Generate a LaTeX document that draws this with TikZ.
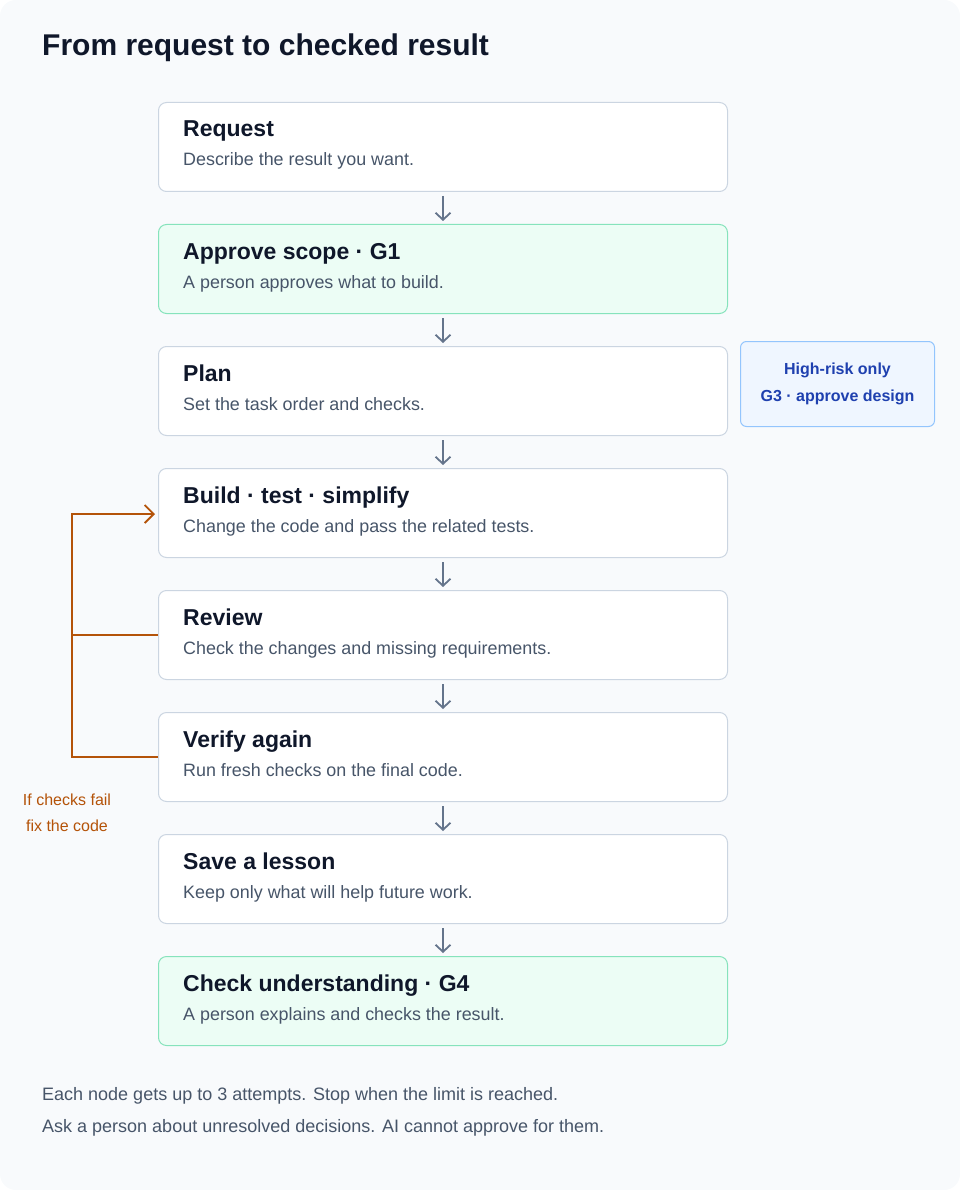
\documentclass[tikz,border=0pt]{standalone}
\usepackage{fontspec}
\setmainfont{Liberation Sans}
\usetikzlibrary{arrows.meta}
\definecolor{bgc}{HTML}{F8FAFC}
\definecolor{ink}{HTML}{0F172A}
\definecolor{muted}{HTML}{475569}
\definecolor{edge}{HTML}{CBD5E1}
\definecolor{arrowc}{HTML}{64748B}
\definecolor{gfill}{HTML}{ECFDF5}
\definecolor{gedge}{HTML}{86E3BC}
\definecolor{bfill}{HTML}{EFF6FF}
\definecolor{bedge}{HTML}{93C5FD}
\definecolor{btext}{HTML}{1E40AF}
\definecolor{loopc}{HTML}{B45309}
\tikzset{
  stage/.style={draw=edge,fill=white,rounded corners=8pt,line width=1pt,minimum width=569pt,minimum height=89pt,anchor=north west,inner sep=0pt},
  gate/.style={stage,draw=gedge,fill=gfill},
  stitle/.style={anchor=base west,inner sep=0pt,text=ink,font=\fontsize{23}{27}\selectfont\bfseries},
  ssub/.style={anchor=base west,inner sep=0pt,text=muted,font=\fontsize{17.9}{21}\selectfont},
  flow/.style={draw=arrowc,line width=1.8pt,-{Straight Barb[length=7pt,width=15pt]}},
}
\begin{document}
\begin{tikzpicture}[x=1pt,y=-1pt]
\useasboundingbox (0,0) rectangle (960,1190);
\fill[bgc,rounded corners=16pt] (0,0) rectangle (960,1190);
\node (title) at (42,56) [anchor=base west,inner sep=0pt,text=ink,font=\fontsize{30}{34}\selectfont\bfseries] {From request to checked result};
% stages
\node (request) at (158,102) [stage] {};
\node (scope) at (158,224) [gate] {};
\node (plan) at (158,346) [stage] {};
\node (build) at (158,468) [stage] {};
\node (review) at (158,590) [stage] {};
\node (verify) at (158,712) [stage] {};
\node (lesson) at (158,834) [stage] {};
\node (understand) at (158,956) [gate] {};
\node at (183,137) [stitle] {Request};
\node at (183,166) [ssub] {Describe the result you want.};
\node at (183,259) [stitle] {Approve scope · G1};
\node at (183,288) [ssub] {A person approves what to build.};
\node at (183,381) [stitle] {Plan};
\node at (183,410) [ssub] {Set the task order and checks.};
\node at (183,503) [stitle] {Build · test · simplify};
\node at (183,532) [ssub] {Change the code and pass the related tests.};
\node at (183,625) [stitle] {Review};
\node at (183,654) [ssub] {Check the changes and missing requirements.};
\node at (183,747) [stitle] {Verify again};
\node at (183,776) [ssub] {Run fresh checks on the final code.};
\node at (183,869) [stitle] {Save a lesson};
\node at (183,898) [ssub] {Keep only what will help future work.};
\node at (183,991) [stitle] {Check understanding · G4};
\node at (183,1020) [ssub] {A person explains and checks the result.};
% side note
\node (risk) at (740,341) [anchor=north west,draw=bedge,fill=bfill,rounded corners=6pt,line width=1pt,minimum width=194pt,minimum height=85pt,inner sep=0pt,align=center,text=btext,font=\fontsize{16}{27}\selectfont\bfseries] {High-risk only\\G3 · approve design};
% flow arrows
\draw[flow] ([yshift=-4pt]request.south) -- ([yshift=3pt]scope.north);
\draw[flow] ([yshift=-4pt]scope.south) -- ([yshift=3pt]plan.north);
\draw[flow] ([yshift=-4pt]plan.south) -- ([yshift=3pt]build.north);
\draw[flow] ([yshift=-4pt]build.south) -- ([yshift=3pt]review.north);
\draw[flow] ([yshift=-4pt]review.south) -- ([yshift=3pt]verify.north);
\draw[flow] ([yshift=-4pt]verify.south) -- ([yshift=3pt]lesson.north);
\draw[flow] ([yshift=-4pt]lesson.south) -- ([yshift=3pt]understand.north);
% retry loop
\coordinate (rail) at (72,514);
\coordinate (entry) at (155,514);
\draw[loopc,line width=1.8pt] (review.west) -- (72,635);
\draw[loopc,line width=1.8pt,-{Straight Barb[length=9pt,width=18pt]}] (verify.west) -- (72,757) -- (rail) -- (entry);
\node (retry) at (67,813) [align=center,text=loopc,font=\fontsize{16}{26}\selectfont] {If checks fail\\fix the code};
% footer
\node (note1) at (42,1100) [anchor=base west,inner sep=0pt,text=muted,font=\fontsize{18}{21}\selectfont] {Each node gets up to 3 attempts. Stop when the limit is reached.};
\node (note2) at (42,1132) [anchor=base west,inner sep=0pt,text=muted,font=\fontsize{18}{21}\selectfont] {Ask a person about unresolved decisions. AI cannot approve for them.};
\end{tikzpicture}
\end{document}
